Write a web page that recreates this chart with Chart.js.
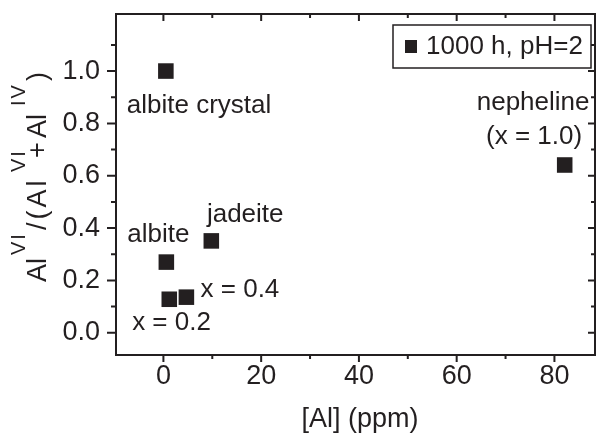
<!DOCTYPE html>
<html>
<head>
<meta charset="utf-8">
<script src="https://cdn.jsdelivr.net/npm/chart.js@4.4.1/dist/chart.umd.min.js"></script>
<style>
  body { margin: 0; background: #fff; }
  #wrap { width: 596px; height: 437px; }
</style>
</head>
<body>
<div id="wrap"><canvas id="chart" width="596" height="437"></canvas></div>
<script>
// Al coordination vs dissolved Al
const seriesLabel = '1000 h, pH=2';
const alPpm   = [0.5, 0.6, 1.2, 4.7, 9.8, 82.1];
const alRatio = [1.0, 0.27, 0.128, 0.136, 0.351, 0.641];

const xTicks = [0, 20, 40, 60, 80];
const xTickLabels = ['0', '20', '40', '60', '80'];
const xMinor = [10, 30, 50, 70];
const yTicks = [0.0, 0.2, 0.4, 0.6, 0.8, 1.0];
const yTickLabels = ['0.0', '0.2', '0.4', '0.6', '0.8', '1.0'];
const yMinor = [0.1, 0.3, 0.5, 0.7, 0.9, 1.1];

// sample names, placed in data units
const noteText = ['albite crystal', 'albite', 'jadeite', 'x = 0.4', 'x = 0.2', 'nepheline', '(x = 1.0)'];
const noteX    = [-7.5, -7.4, 8.9, 7.6, -6.4, 64.1, 66.0];
const noteY    = [0.838, 0.348, 0.423, 0.138, 0.010, 0.851, 0.720];

const INK = '#231f20';
const FONT = '"Liberation Sans", Arial, sans-serif';

Chart.defaults.font.family = FONT;
Chart.defaults.color = INK;

function noPadding(s) {
    s.paddingLeft = 0;
    s.paddingRight = 0;
    s.paddingTop = 0;
    s.paddingBottom = 0;
}

const decorations = {
    id: 'decorations',
    afterDatasetsDraw(chart) {
        const ctx = chart.ctx;
        const a = chart.chartArea;
        const xs = chart.scales.x;
        const ys = chart.scales.y;
        ctx.save();
        ctx.strokeStyle = INK;
        ctx.lineWidth = 2;
        ctx.strokeRect(a.left, a.top, a.right - a.left, a.bottom - a.top);

        ctx.beginPath();
        xTicks.forEach(v => {
            const px = xs.getPixelForValue(v);
            ctx.moveTo(px, a.bottom); ctx.lineTo(px, a.bottom + 7);
            ctx.moveTo(px, a.top); ctx.lineTo(px, a.top + 7);
        });
        xMinor.forEach(v => {
            const px = xs.getPixelForValue(v);
            ctx.moveTo(px, a.bottom); ctx.lineTo(px, a.bottom + 4);
            ctx.moveTo(px, a.top); ctx.lineTo(px, a.top + 4);
        });
        yTicks.forEach(v => {
            const py = ys.getPixelForValue(v);
            ctx.moveTo(a.left, py); ctx.lineTo(a.left - 9, py);
            ctx.moveTo(a.right, py); ctx.lineTo(a.right - 7, py);
        });
        yMinor.forEach(v => {
            const py = ys.getPixelForValue(v);
            ctx.moveTo(a.left, py); ctx.lineTo(a.left - 5, py);
            ctx.moveTo(a.right, py); ctx.lineTo(a.right - 4, py);
        });
        ctx.stroke();

        // notes next to the points
        ctx.fillStyle = INK;
        ctx.font = '26px ' + FONT;
        ctx.textAlign = 'left';
        ctx.textBaseline = 'alphabetic';
        noteText.forEach((t, i) => {
            ctx.fillText(t, xs.getPixelForValue(noteX[i]), ys.getPixelForValue(noteY[i]));
        });

        // legend box
        ctx.lineWidth = 1.5;
        ctx.strokeRect(393, 25, 198, 43);
        ctx.fillRect(405, 40, 12, 13);
        ctx.fillText(seriesLabel, 426, 53.5);

        // x title
        ctx.font = '27px ' + FONT;
        ctx.textAlign = 'center';
        ctx.fillText('[Al] (ppm)', 360, 427);

        // y title with superscripts, spaced like the original
        const parts = [
            ['Al', 0, 0], ['VI', 1, 27], ['/(Al', 0, 52],
            ['VI', 1, 110], ['+', 0, 124], ['Al', 0, 144],
            ['IV', 1, 176], [')', 0, 201]
        ];
        ctx.translate(46, 282);
        ctx.rotate(-Math.PI / 2);
        ctx.textAlign = 'left';
        parts.forEach(([t, sup, off]) => {
            if (sup) {
                ctx.font = '20px ' + FONT;
                ctx.letterSpacing = '2px';
                ctx.fillText(t, off, -21);
                ctx.letterSpacing = '0px';
            } else {
                ctx.font = '27px ' + FONT;
                ctx.letterSpacing = t === '/(Al' ? '3px' : '0px';
                ctx.fillText(t, off, 0);
                ctx.letterSpacing = '0px';
            }
        });
        ctx.restore();
    }
};

new Chart(document.getElementById('chart'), {
    type: 'scatter',
    data: {
        datasets: [{
            label: seriesLabel,
            data: alPpm.map((x, i) => ({ x: x, y: alRatio[i] })),
            pointStyle: 'rect',
            pointRadius: 11,
            pointHoverRadius: 11,
            backgroundColor: INK,
            borderWidth: 0
        }]
    },
    options: {
        responsive: false,
        animation: false,
        events: [],
        layout: { autoPadding: false, padding: { top: 14, right: 1, left: 0, bottom: 0 } },
        plugins: {
            legend: { display: false },
            tooltip: { enabled: false }
        },
        scales: {
            x: {
                type: 'linear',
                min: -9.7,
                max: 88.3,
                grid: { display: false, drawTicks: false },
                border: { display: false },
                ticks: {
                    font: { size: 27 },
                    color: INK,
                    padding: 5,
                    maxRotation: 0,
                    callback: (v, i) => xTickLabels[i]
                },
                afterBuildTicks: s => { s.ticks = xTicks.map(v => ({ value: v })); },
                afterFit: s => { s.height = 82; noPadding(s); }
            },
            y: {
                type: 'linear',
                min: -0.085,
                max: 1.218,
                grid: { display: false, drawTicks: false },
                border: { display: false },
                ticks: {
                    font: { size: 27 },
                    color: INK,
                    padding: 16,
                    callback: (v, i) => yTickLabels[i]
                },
                afterBuildTicks: s => { s.ticks = yTicks.map(v => ({ value: v })); },
                afterFit: s => { s.width = 116; noPadding(s); }
            }
        }
    },
    plugins: [decorations]
});
</script>
</body>
</html>
